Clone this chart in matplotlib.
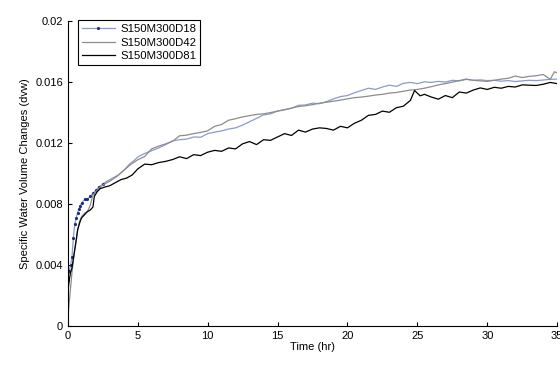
import numpy as np
import matplotlib.pyplot as plt

plt.rcParams['font.family'] = ['Liberation Sans', 'DejaVu Sans']
plt.rcParams['font.size'] = 8

# S150M300D18
t18 = [0, 0.1, 0.2, 0.3, 0.4, 0.5, 0.6, 0.7, 0.8, 0.9, 1.0, 1.2, 1.4, 1.6, 1.8, 2.0,
       2.2, 2.5, 2.8, 3.2, 3.6, 4.0, 4.4, 4.8,
       5.0, 5.5, 6.0, 6.5, 7.0, 7.5, 8.0, 8.5, 9.0, 9.5, 10.0, 10.5, 11.0, 11.5, 12.0,
       12.5, 13.0, 13.5, 14.0, 14.5, 15.0, 15.5, 16.0, 16.5, 17.0, 17.5, 18.0, 18.5,
       19.0, 19.5, 20.0, 20.5, 21.0, 21.5, 22.0, 22.5, 23.0, 23.5, 24.0, 24.5, 25.0,
       25.5, 26.0, 26.5, 27.0, 27.5, 28.0, 28.5, 29.0, 29.5, 30.0, 30.5, 31.0, 31.5,
       32.0, 32.5, 33.0, 33.5, 34.0, 34.5, 35.0]
v18 = [0.0030, 0.0036, 0.0040, 0.0045, 0.0058, 0.0067, 0.0071, 0.0074, 0.0077, 0.0079,
       0.0081, 0.0083, 0.0083, 0.0085, 0.0087, 0.0089, 0.0091, 0.0093, 0.0095, 0.0097,
       0.0099, 0.0102, 0.0106, 0.0109,
       0.01108, 0.01132, 0.01150, 0.01168, 0.01190, 0.01215, 0.01222, 0.01226, 0.01240,
       0.01238, 0.01262, 0.01272, 0.01280, 0.01292, 0.01300, 0.01318, 0.01340, 0.01362,
       0.01385, 0.01392, 0.01410, 0.01420, 0.01428, 0.01448, 0.01450, 0.01462, 0.01458,
       0.01472, 0.01490, 0.01505, 0.01512, 0.01530, 0.01545, 0.01560, 0.01552, 0.01568,
       0.01580, 0.01572, 0.01592, 0.01598, 0.01590, 0.01602, 0.01598, 0.01605, 0.01600,
       0.01612, 0.01608, 0.01618, 0.01612, 0.01615, 0.01610, 0.01612, 0.01606, 0.01610,
       0.01604, 0.01608, 0.01612, 0.01610, 0.01614, 0.01618, 0.01620]

# S150M300D42
t42 = [0, 0.1, 0.2, 0.3, 0.4, 0.5, 0.6, 0.7, 0.8, 0.9, 1.0, 1.2, 1.4, 1.6, 1.8, 2.0,
       2.3, 2.6, 3.0, 3.5, 4.0, 4.5,
       5.0, 5.5, 6.0, 6.5, 7.0, 7.5, 8.0, 8.5, 9.0, 9.5, 10.0, 10.5, 11.0, 11.5, 12.0,
       12.5, 13.0, 13.5, 14.0, 14.5, 15.0, 15.5, 16.0, 16.5, 17.0, 17.5, 18.0, 18.5,
       19.0, 19.5, 20.0, 20.5, 21.0, 21.5, 22.0, 22.5, 23.0, 23.5, 24.0, 24.5, 25.0,
       25.5, 26.0, 26.5, 27.0, 27.5, 28.0, 28.5, 29.0, 29.5, 30.0, 30.5, 31.0, 31.5,
       32.0, 32.5, 33.0, 33.5, 34.0, 34.5, 34.8, 35.0]
v42 = [0.0004, 0.0015, 0.0025, 0.0035, 0.0043, 0.0050, 0.0056, 0.0062, 0.0067, 0.0070,
       0.0072, 0.0074, 0.0075, 0.0079, 0.0086, 0.0088, 0.0091, 0.0093, 0.0095, 0.0098,
       0.0102, 0.0106,
       0.01090, 0.01112, 0.01162, 0.01180, 0.01195, 0.01212, 0.01248, 0.01252, 0.01262,
       0.01270, 0.01280, 0.01310, 0.01322, 0.01350, 0.01360, 0.01372, 0.01380, 0.01388,
       0.01392, 0.01400, 0.01410, 0.01418, 0.01430, 0.01440, 0.01445, 0.01452, 0.01462,
       0.01468, 0.01475, 0.01482, 0.01490, 0.01498, 0.01502, 0.01508, 0.01515, 0.01520,
       0.01528, 0.01532, 0.01540, 0.01548, 0.01552, 0.01560, 0.01570, 0.01582, 0.01590,
       0.01600, 0.01610, 0.01620, 0.01612, 0.01608, 0.01605, 0.01612, 0.01620, 0.01625,
       0.01640, 0.01630, 0.01638, 0.01642, 0.01650, 0.01618, 0.01668, 0.01660]

# S150M300D81
t81 = [0, 0.1, 0.2, 0.3, 0.4, 0.5, 0.6, 0.7, 0.8, 0.9, 1.0, 1.2, 1.4, 1.6, 1.8, 1.9,
       2.1, 2.3, 2.6, 3.0, 3.4, 3.8, 4.2, 4.6,
       5.0, 5.5, 6.0, 6.5, 7.0, 7.5, 8.0, 8.5, 9.0, 9.5, 10.0, 10.5, 11.0, 11.5, 12.0,
       12.5, 13.0, 13.5, 14.0, 14.5, 15.0, 15.5, 16.0, 16.5, 17.0, 17.5, 18.0, 18.5,
       19.0, 19.5, 20.0, 20.5, 21.0, 21.5, 22.0, 22.5, 23.0, 23.5, 24.0, 24.5, 24.8,
       25.2, 25.5, 26.0, 26.5, 27.0, 27.5, 28.0, 28.5, 29.0, 29.5, 30.0, 30.5, 31.0,
       31.5, 32.0, 32.5, 33.0, 33.5, 34.0, 34.5, 35.0]
v81 = [0.0021, 0.0030, 0.0035, 0.0038, 0.0044, 0.0050, 0.0056, 0.0063, 0.0066, 0.0069,
       0.0071, 0.0073, 0.0075, 0.0076, 0.0078, 0.0085, 0.0088, 0.0090, 0.0091, 0.0092,
       0.0094, 0.0096, 0.0097, 0.0099,
       0.01030, 0.01062, 0.01058, 0.01072, 0.01080, 0.01092, 0.01110, 0.01098, 0.01124,
       0.01118, 0.01140, 0.01152, 0.01146, 0.01168, 0.01162, 0.01195, 0.01210, 0.01190,
       0.01222, 0.01218, 0.01240, 0.01262, 0.01250, 0.01285, 0.01272, 0.01292, 0.01300,
       0.01296, 0.01285, 0.01310, 0.01300, 0.01330, 0.01350, 0.01382, 0.01388, 0.01410,
       0.01402, 0.01432, 0.01442, 0.01480, 0.01545, 0.01510, 0.01520, 0.01502, 0.01488,
       0.01512, 0.01498, 0.01535, 0.01528, 0.01548, 0.01562, 0.01552, 0.01566, 0.01560,
       0.01572, 0.01568, 0.01582, 0.01580, 0.01578, 0.01586, 0.01598, 0.01590]

fig = plt.figure(figsize=(5.6, 3.65), dpi=100)
ax = fig.add_axes([0.121, 0.107, 0.874, 0.835])

n_mark = sum(1 for t in t18 if t <= 2.5)
ax.plot(t18, v18, color='#8a9ad0', lw=0.9, marker='.', ms=2.5,
        mfc='#1a2a80', mec='#1a2a80', markevery=list(range(n_mark)),
        label='S150M300D18')
ax.plot(t42, v42, color='#8c8c8c', lw=0.9, label='S150M300D42')
ax.plot(t81, v81, color='black', lw=0.9, label='S150M300D81')

ax.set_xlim(0, 35)
ax.set_ylim(0, 0.02)
ax.set_xticks(range(0, 36, 5))
ax.set_yticks([0, 0.004, 0.008, 0.012, 0.016, 0.02])
ax.set_yticklabels(['0', '0.004', '0.008', '0.012', '0.016', '0.02'])
ax.tick_params(direction='in', length=3, width=0.8)
for s in ['top', 'right']:
    ax.spines[s].set_visible(False)

ax.set_xlabel('Time (hr)', labelpad=1)
ax.set_ylabel('Specific Water Volume Changes (dvw)', labelpad=4)

leg = ax.legend(loc='upper left', bbox_to_anchor=(0.02, 1.003), numpoints=1,
                fancybox=False, framealpha=1, edgecolor='black',
                handlelength=2.9, handletextpad=0.5, borderpad=0.35,
                labelspacing=0.3, borderaxespad=0, fontsize=8.2)
leg.get_frame().set_linewidth(0.8)

fig.savefig('out.png', dpi=100)
